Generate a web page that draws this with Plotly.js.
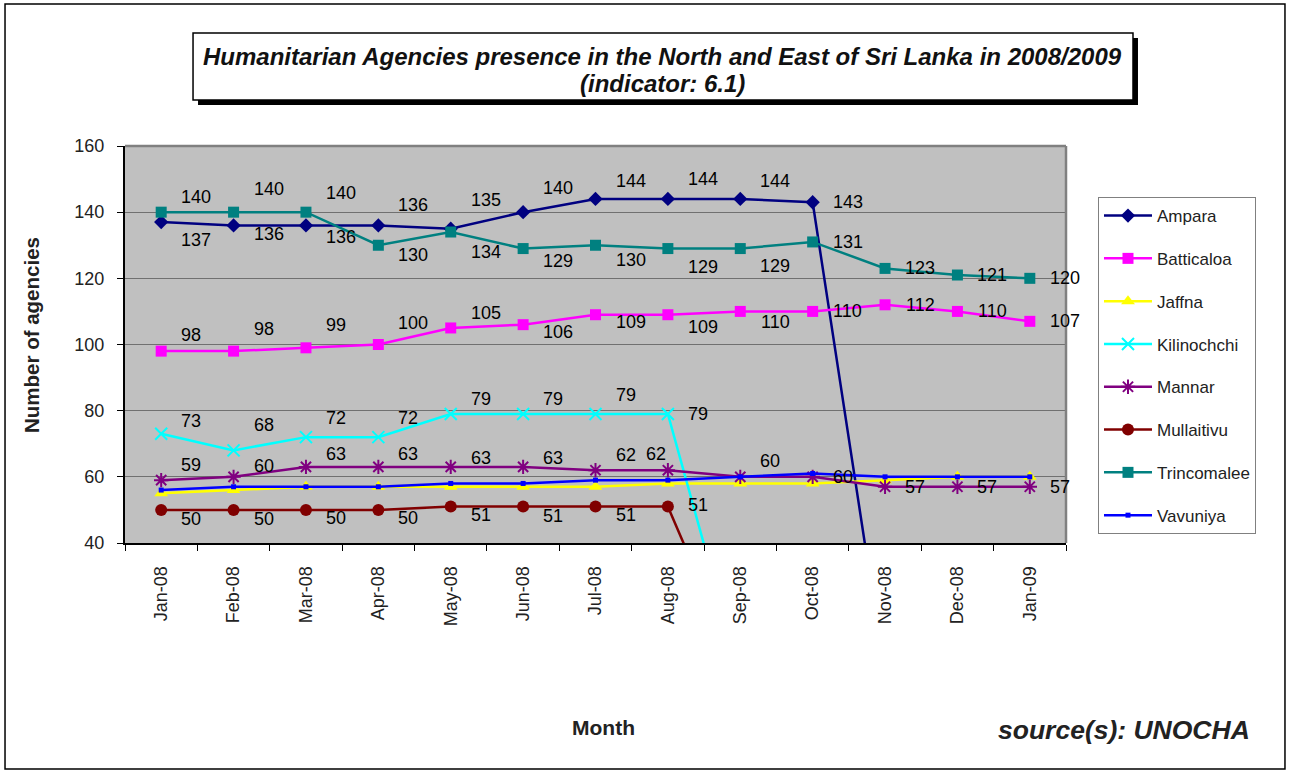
<!DOCTYPE html>
<html>
<head>
<meta charset="utf-8">
<script src="https://cdn.plot.ly/plotly-3.0.1.min.js"></script>
<style>
html,body{margin:0;padding:0;background:#fff;}
#chart{width:1290px;height:771px;}
</style>
</head>
<body>
<div id="chart"></div>
<script>
// ---- data ----
const months = ['Jan-08','Feb-08','Mar-08','Apr-08','May-08','Jun-08','Jul-08','Aug-08','Sep-08','Oct-08','Nov-08','Dec-08','Jan-09'];
const ampara      = [137,136,136,136,135,140,144,144,144,143,0,0,0];
const batticaloa  = [98,98,99,100,105,106,109,109,110,110,112,110,107];
const jaffna      = [55,56,57,57,57,57,57,58,58,58,59,60,60];
const kilinochchi = [73,68,72,72,79,79,79,79,0,0,0,0,0];
const mannar      = [59,60,63,63,63,63,62,62,60,60,57,57,57];
const mullaitivu  = [50,50,50,50,51,51,51,51,0,0,0,0,0];
const trincomalee = [140,140,140,130,134,129,130,129,129,131,123,121,120];
const vavuniya    = [56,57,57,57,58,58,59,59,60,61,60,60,60];
const yTicks = [40,60,80,100,120,140,160];

// ---- label placement (style only: vertical pixel offsets, null = no label) ----
const labelDy = {
  Ampara:      [18,9,12,-20,-29,-24,-18,-20,-18,0,null,null,null],
  Batticaloa:  [-16,-22,-23,-22,-15,7,7,12,11,0,0,0,0],
  Kilinochchi: [-13,-25,-19,-19,-15,-15,-19,0,null,null,null,null,null],
  Mannar:      [-15,-11,-13,-13,-9,-9,-15,-16,-16,0,0,0,0],
  Mullaitivu:  [9,9,8,8,8,9,8,-2,null,null,null,null,null],
  Trincomalee: [-15,-23,-19,10,20,12,15,18,17,0,0,0,0]
};
const labelDxOverride = {Mannar: {7: -42}};

const series = [
  {name:'Ampara', y:ampara, color:'#000080', symbol:'diamond', size:11},
  {name:'Batticaloa', y:batticaloa, color:'#FF00FF', symbol:'square', size:11},
  {name:'Jaffna', y:jaffna, color:'#FFFF00', symbol:'triangle-up', size:12},
  {name:'Kilinochchi', y:kilinochchi, color:'#00FFFF', symbol:'x-thin-open', size:12},
  {name:'Mannar', y:mannar, color:'#800080', symbol:'asterisk-open', size:12},
  {name:'Mullaitivu', y:mullaitivu, color:'#800000', symbol:'circle', size:12},
  {name:'Trincomalee', y:trincomalee, color:'#008080', symbol:'square', size:11},
  {name:'Vavuniya', y:vavuniya, color:'#0000FF', symbol:'square', size:5}
];

const traces = series.map((s, i) => ({
  type:'scatter', mode:'lines+markers', name:s.name, x:months, y:s.y,
  legendgroup:'g'+i,
  line:{color:s.color, width:2.5},
  marker:{symbol:s.symbol, size:s.size, color:s.color,
          line:{color:s.color, width:(s.symbol.indexOf('open')>=0?2:0)}},
  cliponaxis:true, hoverinfo:'x+y+name'
}));

const FONT = 'Liberation Sans, Arial, sans-serif';
const annotations = [];
series.forEach(s => {
  const dys = labelDy[s.name];
  if (!dys) return;
  s.y.forEach((v, i) => {
    if (dys[i] === null || dys[i] === undefined) return;
    const txt = String(v);
    let dx = 20 + 5 * txt.length;
    if (labelDxOverride[s.name] && labelDxOverride[s.name][i] !== undefined) dx += labelDxOverride[s.name][i];
    annotations.push({
      x: months[i], y: v, xref:'x', yref:'y', text: txt, showarrow:false,
      xshift: dx, yshift: -dys[i], xanchor:'center', yanchor:'middle',
      font:{family:FONT, size:18, color:'#000'}
    });
  });
});

// chart texts
annotations.push({
  xref:'paper', yref:'paper', x:0.5717, y:1.2242, xanchor:'center', yanchor:'middle',
  text:'<b><i>Humanitarian Agencies presence in the North and East of Sri Lanka in 2008/2009</i></b>',
  showarrow:false, font:{family:FONT, size:24, color:'#111'}
});
annotations.push({
  xref:'paper', yref:'paper', x:0.5717, y:1.1562, xanchor:'center', yanchor:'middle',
  text:'<b><i>(indicator: 6.1)</i></b>',
  showarrow:false, font:{family:FONT, size:24, color:'#111'}
});
annotations.push({
  xref:'paper', yref:'paper', x:-0.0988, y:0.524, textangle:-90, xanchor:'center', yanchor:'middle',
  text:'<b>Number of agencies</b>', showarrow:false, font:{family:FONT, size:20.5, color:'#222'}
});
annotations.push({
  xref:'paper', yref:'paper', x:0.509, y:-0.4635, xanchor:'center', yanchor:'middle',
  text:'<b>Month</b>', showarrow:false, font:{family:FONT, size:21, color:'#222'}
});
annotations.push({
  xref:'paper', yref:'paper', x:1.1977, y:-0.471, xanchor:'right', yanchor:'middle',
  text:'<b><i>source(s): UNOCHA</i></b>', showarrow:false, font:{family:FONT, size:26.5, color:'#222'}
});

const shapes = [
  // outer border
  {type:'rect', xref:'paper', yref:'paper', x0:-0.1275, x1:1.2327, y0:-0.569, y1:1.3577,
   line:{color:'#000', width:1.5}, fillcolor:'rgba(0,0,0,0)', layer:'below'},
  // title box shadow
  {type:'rect', xref:'paper', yref:'paper', x0:0.0776, x1:1.0765, y0:1.1033, y1:1.2720,
   line:{width:0}, fillcolor:'#000', layer:'above'},
  // title box
  {type:'rect', xref:'paper', yref:'paper', x0:0.0723, x1:1.0712, y0:1.1159, y1:1.2846,
   line:{color:'#000', width:1.5}, fillcolor:'#fff', layer:'above'},
  // plot area top and right border (gray)
  {type:'line', xref:'paper', yref:'paper', x0:0, x1:1, y0:1, y1:1, line:{color:'#808080', width:2.5}},
  {type:'line', xref:'paper', yref:'paper', x0:1, x1:1, y0:0, y1:1, line:{color:'#808080', width:2.5}}
];

const layout = {
  width:1290, height:771,
  margin:{l:125, r:224, t:146, b:228},
  paper_bgcolor:'#fff', plot_bgcolor:'#C0C0C0',
  showlegend:true,
  legend:{x:1.034, y:0.8715, xanchor:'left', yanchor:'top',
          bgcolor:'#fff', bordercolor:'#808080', borderwidth:1,
          font:{family:FONT, size:17, color:'#222'},
          tracegroupgap:17.7, itemwidth:48},
  xaxis:{type:'category', categoryorder:'array', categoryarray:months,
         tickangle:-90, tickson:'boundaries', ticks:'outside', ticklen:6, tickcolor:'#000',
         showline:true, linecolor:'#000', linewidth:2, showgrid:false,
         ticklabelstandoff:14,
         tickfont:{family:FONT, size:18, color:'#222'}, range:[-0.5,12.5], fixedrange:true},
  yaxis:{range:[40,160], tickvals:yTicks, ticktext:yTicks.map(String),
         ticks:'outside', ticklen:6, tickcolor:'#000',
         showline:true, linecolor:'#000', linewidth:2,
         showgrid:true, gridcolor:'#707070', gridwidth:1, zeroline:false,
         ticklabelstandoff:9,
         tickfont:{family:FONT, size:18, color:'#222'}, fixedrange:true},
  annotations:annotations,
  shapes:shapes
};

Plotly.newPlot('chart', traces, layout, {displayModeBar:false, staticPlot:true});
</script>
</body>
</html>
